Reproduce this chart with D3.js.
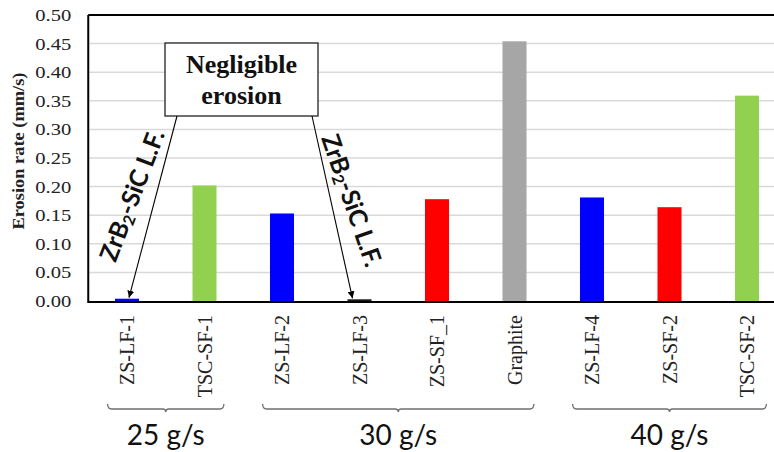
<!DOCTYPE html>
<html>
<head>
<meta charset="utf-8">
<script src="https://cdn.jsdelivr.net/npm/d3@7/dist/d3.min.js"></script>
<style>
  html, body { margin: 0; padding: 0; background: #fff; }
  svg { display: block; }
</style>
</head>
<body>
<svg id="chart" width="774" height="452"></svg>
<script>
// ---- data ----
const categories = ["ZS-LF-1", "TSC-SF-1", "ZS-LF-2", "ZS-LF-3", "ZS-SF_1", "Graphite", "ZS-LF-4", "ZS-SF-2", "TSC-SF-2"];
const erosionRate = [0.004, 0.202, 0.153, 0.003, 0.178, 0.454, 0.181, 0.164, 0.359];
const barColors = ["#0000ff", "#92d050", "#0000ff", "#1a1a1a", "#ff0000", "#a6a6a6", "#0000ff", "#ff0000", "#92d050"];
const yTicks = [0, 0.05, 0.10, 0.15, 0.20, 0.25, 0.30, 0.35, 0.40, 0.45, 0.50];
const groupLabels = ["25 g/s", "30 g/s", "40 g/s"];
const groupFirst = ["ZS-LF-1", "ZS-LF-2", "ZS-LF-4"];
const groupLast = ["TSC-SF-1", "Graphite", "TSC-SF-2"];
const yTitle = "Erosion rate (mm/s)";
const boxLines = ["Negligible", "erosion"];
const arrowTargets = ["ZS-LF-1", "ZS-LF-3"];

// ---- layout ----
const svg = d3.select("#chart");
const W = 774;
const plot = { left: 88.25, top: 15, bottom: 301, right: 785.75 };

const x = d3.scaleBand().domain(categories)
  .range([plot.left, plot.right]).paddingInner(0.69).paddingOuter(0.345);
const y = d3.scaleLinear().domain([0, 0.5]).range([plot.bottom, plot.top]);
const cx = c => x(c) + x.bandwidth() / 2;

// gridlines
svg.append("g").selectAll("line").data(yTicks.filter(t => t > 0 && t < 0.5)).join("line")
  .attr("x1", plot.left).attr("x2", W)
  .attr("y1", d => y(d)).attr("y2", d => y(d))
  .attr("stroke", "#d9d9d9").attr("stroke-width", 1.5);

// frame: top, left, bottom
svg.append("line").attr("x1", plot.left).attr("x2", W).attr("y1", plot.top).attr("y2", plot.top)
  .attr("stroke", "#000").attr("stroke-width", 2);
svg.append("line").attr("x1", plot.left).attr("x2", plot.left).attr("y1", plot.top).attr("y2", plot.bottom)
  .attr("stroke", "#000").attr("stroke-width", 2);
svg.append("line").attr("x1", plot.left - 1).attr("x2", W).attr("y1", plot.bottom + 1).attr("y2", plot.bottom + 1)
  .attr("stroke", "#000").attr("stroke-width", 2);

// bars
svg.append("g").selectAll("rect").data(categories).join("rect")
  .attr("x", d => x(d)).attr("width", x.bandwidth())
  .attr("y", (d, i) => y(erosionRate[i]))
  .attr("height", (d, i) => y(0) - y(erosionRate[i]))
  .attr("fill", (d, i) => barColors[i]);

// y axis labels
const yAxis = d3.axisLeft(y).tickValues(yTicks).tickSize(0).tickPadding(17).tickFormat(d3.format(".2f"));
const gy = svg.append("g").attr("transform", `translate(${plot.left},0)`).call(yAxis);
gy.select(".domain").remove();
gy.selectAll("text")
  .attr("font-family", "'Liberation Serif', 'Times New Roman', serif")
  .attr("font-size", 17).attr("fill", "#222")
  .attr("textLength", 36).attr("lengthAdjust", "spacingAndGlyphs");

// y title
svg.append("text")
  .attr("transform", `translate(24,151) rotate(-90)`)
  .attr("text-anchor", "middle")
  .attr("font-family", "'Liberation Serif', 'Times New Roman', serif")
  .attr("font-weight", "bold").attr("font-size", 17.5).attr("fill", "#222")
  .attr("textLength", 157).attr("lengthAdjust", "spacingAndGlyphs")
  .text(yTitle);

// x tick labels (rotated)
const xAxis = d3.axisBottom(x).tickSize(0).tickPadding(0);
const gx = svg.append("g").attr("transform", `translate(0,${plot.bottom})`).call(xAxis);
gx.select(".domain").remove();
gx.selectAll("text")
  .attr("font-family", "'Liberation Serif', 'Times New Roman', serif")
  .attr("font-size", 20).attr("fill", "#222")
  .attr("text-anchor", "end")
  .attr("transform", "translate(0,14) rotate(-90)")
  .attr("x", 0).attr("y", 0).attr("dy", "0.35em");

// group braces
const braceY = 409;
groupLabels.forEach((lab, i) => {
  const x1 = cx(groupFirst[i]) - 0.25 * x.step();
  const x2 = cx(groupLast[i]) + 0.25 * x.step();
  const xm = (x1 + x2) / 2;
  const p = d3.path();
  p.moveTo(x1, braceY - 5);
  p.quadraticCurveTo(x1, braceY, x1 + 4, braceY);
  p.lineTo(xm - 3, braceY);
  p.quadraticCurveTo(xm, braceY, xm, braceY + 3);
  p.quadraticCurveTo(xm, braceY, xm + 3, braceY);
  p.lineTo(x2 - 4, braceY);
  p.quadraticCurveTo(x2, braceY, x2, braceY - 5);
  svg.append("path").attr("d", p.toString()).attr("fill", "none")
    .attr("stroke", "#6f6f6f").attr("stroke-width", 1.3);
  svg.append("text").attr("x", xm).attr("y", 445)
    .attr("text-anchor", "middle")
    .attr("font-family", "Lato, 'Open Sans', sans-serif").attr("font-size", 28).attr("fill", "#111")
    .text(lab);
});

// annotation box
const box = { x: 165, y: 43, w: 153, h: 73 };
svg.append("rect").attr("x", box.x).attr("y", box.y).attr("width", box.w).attr("height", box.h)
  .attr("fill", "#fff").attr("stroke", "#222").attr("stroke-width", 1.3);
svg.append("text").attr("x", box.x + box.w / 2).attr("y", 73)
  .attr("text-anchor", "middle")
  .attr("font-family", "'Liberation Serif', 'Times New Roman', serif")
  .attr("font-weight", "bold").attr("font-size", 26).attr("fill", "#111")
  .text(boxLines[0]);
svg.append("text").attr("x", box.x + box.w / 2).attr("y", 104)
  .attr("text-anchor", "middle")
  .attr("font-family", "'Liberation Serif', 'Times New Roman', serif")
  .attr("font-weight", "bold").attr("font-size", 26).attr("fill", "#111")
  .text(boxLines[1]);

// arrows
const defs = svg.append("defs");
defs.append("marker").attr("id", "ah").attr("viewBox", "0 0 10 10")
  .attr("refX", 10).attr("refY", 5).attr("markerWidth", 7).attr("markerHeight", 7)
  .attr("markerUnits", "userSpaceOnUse")
  .attr("orient", "auto")
  .append("path").attr("d", "M0,0 L10,5 L0,10 z").attr("fill", "#000");
const arrowStarts = [box.x + 12, box.x + box.w - 6];
arrowTargets.forEach((c, i) => {
  svg.append("line")
    .attr("x1", arrowStarts[i]).attr("y1", box.y + box.h)
    .attr("x2", cx(c) + (i === 0 ? 2 : -7)).attr("y2", y(erosionRate[categories.indexOf(c)]) - 1)
    .attr("stroke", "#000").attr("stroke-width", 1.1)
    .attr("marker-end", "url(#ah)");
});

// rotated "ZrB2-SiC L.F." labels
function zrLabel(tx, ty, angle) {
  const t = svg.append("text")
    .attr("transform", `translate(${tx},${ty}) rotate(${angle})`)
    .attr("text-anchor", "middle").attr("dominant-baseline", "central")
    .attr("font-family", "Lato, 'Open Sans', sans-serif").attr("font-weight", "bold")
    .attr("font-size", 25).attr("fill", "#111");
  t.append("tspan").text("ZrB");
  t.append("tspan").attr("font-size", 16).attr("dy", 6).text("2");
  t.append("tspan").attr("dy", -6).text("-SiC L.F.");
}
zrLabel(131, 195, -69);
zrLabel(353, 200, 71);
</script>
</body>
</html>
